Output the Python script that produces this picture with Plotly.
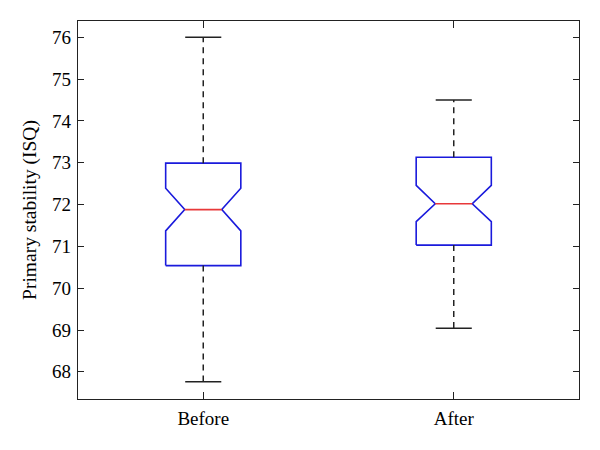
import plotly.graph_objects as go

categories = ["Before", "After"]
positions = [1, 2]
lower_whisker = [67.76, 69.04]
q1 = [70.54, 71.03]
notch_low = [71.37, 71.59]
median = [71.88, 72.02]
notch_high = [72.39, 72.46]
q3 = [72.99, 73.13]
upper_whisker = [76.0, 74.50]
y_ticks = [68, 69, 70, 71, 72, 73, 74, 75, 76]

BOX_HW = 0.15
NOTCH_HW = 0.074
CAP_HW = 0.072
BLUE = "#1a1adc"
RED = "#e8383a"

fig = go.Figure()
for i, x in enumerate(positions):
    bx = [x - BOX_HW, x - BOX_HW, x - NOTCH_HW, x - BOX_HW, x - BOX_HW,
          x + BOX_HW, x + BOX_HW, x + NOTCH_HW, x + BOX_HW, x + BOX_HW, x - BOX_HW]
    by = [q1[i], notch_low[i], median[i], notch_high[i], q3[i],
          q3[i], notch_high[i], median[i], notch_low[i], q1[i], q1[i]]
    fig.add_trace(go.Scatter(x=bx, y=by, mode="lines",
                             line=dict(color=BLUE, width=1.6), hoverinfo="skip"))
    fig.add_trace(go.Scatter(x=[x - NOTCH_HW, x + NOTCH_HW], y=[median[i], median[i]],
                             mode="lines", line=dict(color=RED, width=1.6)))
    for a, b in [(q3[i], upper_whisker[i]), (q1[i], lower_whisker[i])]:
        fig.add_trace(go.Scatter(x=[x, x], y=[a, b], mode="lines",
                                 line=dict(color="#222", width=1.5, dash="6px,5px")))
    for w in [upper_whisker[i], lower_whisker[i]]:
        fig.add_trace(go.Scatter(x=[x - CAP_HW, x + CAP_HW], y=[w, w], mode="lines",
                                 line=dict(color="#222", width=1.5)))

fig.update_layout(
    width=600, height=450,
    margin=dict(l=70, r=29, t=13, b=59),
    paper_bgcolor="white", plot_bgcolor="white",
    showlegend=False,
    font=dict(family="Liberation Serif", size=19, color="black"),
    xaxis=dict(range=[0.5, 2.5], tickvals=positions, ticktext=categories,
               showgrid=False, zeroline=False, showline=True, linecolor="#222",
               linewidth=1.2, mirror="ticks", ticks="inside", ticklen=7,
               tickcolor="#222", tickwidth=1.2, ticklabelstandoff=2),
    yaxis=dict(range=[67.35, 76.39], tickvals=y_ticks,
               showgrid=False, zeroline=False, showline=True, linecolor="#222",
               linewidth=1.2, mirror="ticks", ticks="inside", ticklen=6,
               tickcolor="#222", tickwidth=1.2, ticklabelstandoff=2,
               title=dict(text="Primary stability (ISQ)", standoff=10,
                          font=dict(size=19.5))),
)

fig.write_html("out.html")
